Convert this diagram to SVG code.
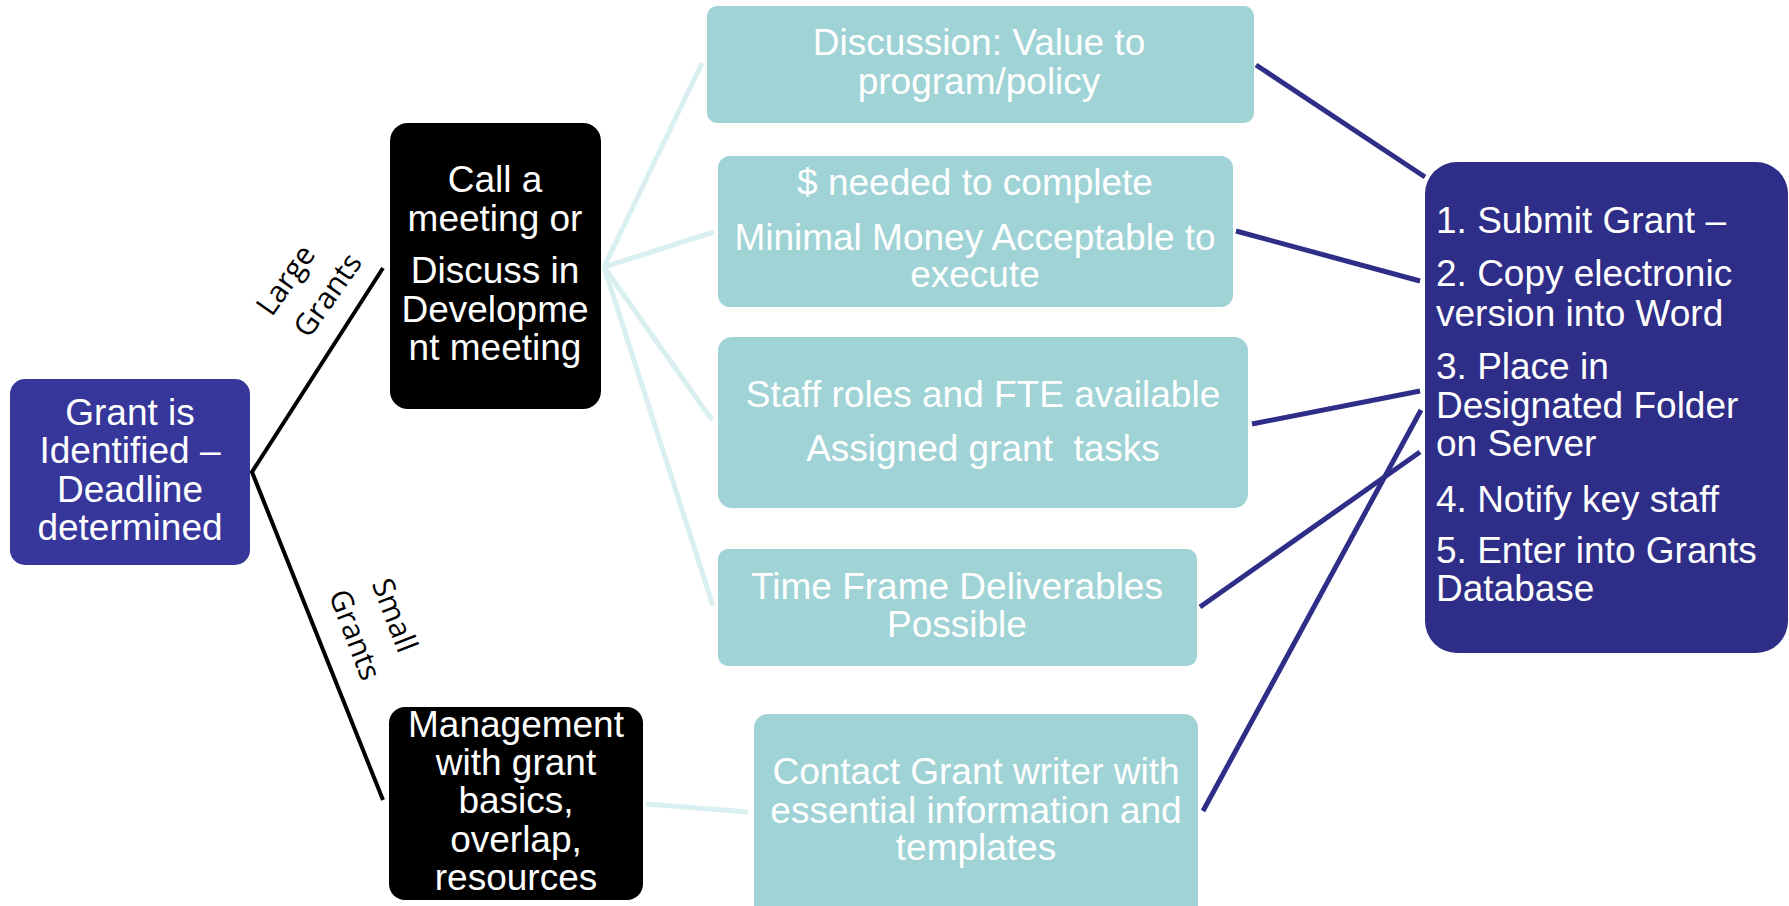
<svg xmlns="http://www.w3.org/2000/svg" width="1789" height="906" viewBox="0 0 1789 906">
  <style>
    .t { font-family: "Liberation Sans", Arial, sans-serif; font-size: 37px; fill: #ffffff; }
    .c { text-anchor: middle; }
    .lbl { font-family: "Open Sans", "DejaVu Sans", sans-serif; font-size: 30px; fill: #000000; text-anchor: middle; }
    .teal { fill: #9fd3d6; }
    .blk { fill: #000000; }
    .lead { stroke: #000000; stroke-width: 4; fill: none; }
    .soft { stroke: #d9eff0; stroke-width: 5; fill: none; }
    .dark { stroke: #2e2d87; stroke-width: 5; fill: none; }
  </style>

  <!-- connectors -->
  <g id="connectors">
    <polyline class="lead" points="383,268 252,472 383,800"/>
    <line class="soft" x1="604" y1="267" x2="702" y2="63"/>
    <line class="soft" x1="604" y1="267" x2="714" y2="232"/>
    <line class="soft" x1="604" y1="267" x2="712" y2="420"/>
    <line class="soft" x1="604" y1="267" x2="713" y2="606"/>
    <line class="soft" x1="646" y1="804" x2="748" y2="812"/>
    <line class="dark" x1="1256" y1="65" x2="1425" y2="177"/>
    <line class="dark" x1="1236" y1="231" x2="1420" y2="281"/>
    <line class="dark" x1="1252" y1="424" x2="1420" y2="391"/>
    <line class="dark" x1="1200" y1="607" x2="1420" y2="452"/>
    <line class="dark" x1="1203" y1="811" x2="1421" y2="410"/>
    <text class="lbl" transform="translate(294,286) rotate(-55)"><tspan x="0" y="0">Large</tspan><tspan x="12" y="43">Grants</tspan></text>
    <text class="lbl" transform="translate(385,619) rotate(69)"><tspan x="0" y="0">Small</tspan><tspan x="4" y="44">Grants</tspan></text>
  </g>

  <g id="grant-identified">
    <rect x="10" y="379" width="240" height="186" rx="15" fill="#37379b"/>
    <text class="t c" x="130" y="425">Grant is</text>
    <text class="t c" x="130" y="463">Identified –</text>
    <text class="t c" x="130" y="502">Deadline</text>
    <text class="t c" x="130" y="540">determined</text>
  </g>

  <g id="call-meeting">
    <rect class="blk" x="390" y="123" width="211" height="286" rx="18"/>
    <text class="t c" x="495" y="192">Call a</text>
    <text class="t c" x="495" y="231">meeting or</text>
    <text class="t c" x="495" y="283">Discuss in</text>
    <text class="t c" x="495" y="322">Developme</text>
    <text class="t c" x="495" y="360">nt meeting</text>
  </g>

  <g id="management">
    <rect class="blk" x="389" y="707" width="254" height="193" rx="16"/>
    <text class="t c" x="516" y="737">Management</text>
    <text class="t c" x="516" y="775">with grant</text>
    <text class="t c" x="516" y="813">basics,</text>
    <text class="t c" x="516" y="852">overlap,</text>
    <text class="t c" x="516" y="890">resources</text>
  </g>

  <g id="value">
    <rect class="teal" x="707" y="6" width="547" height="117" rx="10"/>
    <text class="t c" x="979" y="55">Discussion: Value to</text>
    <text class="t c" x="979" y="94">program/policy</text>
  </g>

  <g id="money">
    <rect class="teal" x="718" y="156" width="515" height="151" rx="12"/>
    <text class="t c" x="975" y="195">$ needed to complete</text>
    <text class="t c" x="975" y="250">Minimal Money Acceptable to</text>
    <text class="t c" x="975" y="287">execute</text>
  </g>

  <g id="staff">
    <rect class="teal" x="718" y="337" width="530" height="171" rx="14"/>
    <text class="t c" x="983" y="407">Staff roles and FTE available</text>
    <text class="t c" x="983" y="461" xml:space="preserve">Assigned grant  tasks</text>
  </g>

  <g id="time-frame">
    <rect class="teal" x="718" y="549" width="479" height="117" rx="10"/>
    <text class="t c" x="957" y="599">Time Frame Deliverables</text>
    <text class="t c" x="957" y="637">Possible</text>
  </g>

  <g id="contact-writer">
    <rect class="teal" x="754" y="714" width="444" height="210" rx="14"/>
    <text class="t c" x="976" y="784">Contact Grant writer with</text>
    <text class="t c" x="976" y="823">essential information and</text>
    <text class="t c" x="976" y="860">templates</text>
  </g>

  <g id="submit-steps">
    <rect x="1425" y="162" width="363" height="491" rx="32" fill="#2e2d87"/>
    <text class="t" x="1436" y="233">1. Submit Grant –</text>
    <text class="t" x="1436" y="286">2. Copy electronic</text>
    <text class="t" x="1436" y="326">version into Word</text>
    <text class="t" x="1436" y="379">3. Place in</text>
    <text class="t" x="1436" y="418">Designated Folder</text>
    <text class="t" x="1436" y="456">on Server</text>
    <text class="t" x="1436" y="512">4. Notify key staff</text>
    <text class="t" x="1436" y="563">5. Enter into Grants</text>
    <text class="t" x="1436" y="601">Database</text>
  </g>
</svg>
